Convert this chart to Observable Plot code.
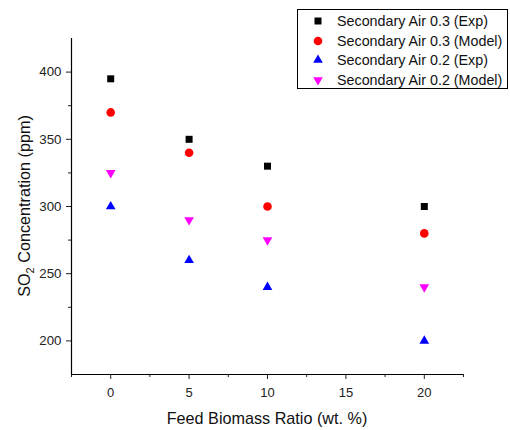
<!DOCTYPE html>
<html>
<head>
<meta charset="utf-8">
<script src="https://cdn.jsdelivr.net/npm/d3@7"></script>
<script src="https://cdn.jsdelivr.net/npm/@observablehq/plot@0.6"></script>
<style>
  html, body { margin: 0; padding: 0; background: #fff; }
  #wrap { position: relative; width: 510px; height: 430px; font-family: "Liberation Sans", Arial, sans-serif; }
  #legend { position: absolute; left: 297px; top: 9px; width: 211px; height: 80px; border: 1px solid #000; background: #fff; box-sizing: border-box; }
  .row { position: absolute; left: 0; height: 20px; display: flex; align-items: center; font-size: 14.3px; color: #111; white-space: nowrap; }
  .row svg { margin-left: 14px; margin-right: 13px; }
</style>
</head>
<body>
<div id="wrap"><div id="legend"></div></div>
<script>
const biomass = [0, 5, 10, 20];
const exp03 = [395, 350, 330, 300];
const model03 = [370, 340, 300, 280];
const exp02 = [300, 260, 240, 200];
const model02 = [325, 290, 275, 240];
const seriesNames = ["Secondary Air 0.3 (Exp)", "Secondary Air 0.3 (Model)", "Secondary Air 0.2 (Exp)", "Secondary Air 0.2 (Model)"];
const seriesColors = ["#000000", "#ff0000", "#0000ff", "#ff00ff"];
const xTicks = [0, 5, 10, 15, 20];
const xMinor = [-2.5, 2.5, 7.5, 12.5, 17.5, 22.5];
const yTicks = [200, 250, 300, 350, 400];
const yMinor = [225, 275, 325, 375];

const triangleDown = {
  draw(context, size) {
    const y = -Math.sqrt(size / (Math.sqrt(3) * 3));
    context.moveTo(0, -y * 2);
    context.lineTo(-Math.sqrt(3) * y, y);
    context.lineTo(Math.sqrt(3) * y, y);
    context.closePath();
  }
};

const mk = (vals) => biomass.map((x, i) => ({x, y: vals[i]}));
const font = "Liberation Sans, Arial, sans-serif";

const chart = Plot.plot({
  width: 510,
  height: 430,
  marginLeft: 71,
  marginRight: 47,
  marginTop: 38,
  marginBottom: 56,
  style: {fontFamily: font, fontSize: "13px", color: "#222", background: "#fff"},
  x: {domain: [-2.5, 22.5], label: null},
  y: {domain: [175, 425], label: null},
  marks: [
    Plot.axisX({ticks: xTicks, tickSize: 5, tickPadding: 8, label: null, fontSize: 13}),
    Plot.axisX({ticks: xMinor, tickSize: 3, tickFormat: () => "", label: null}),
    Plot.axisY({ticks: yTicks, tickSize: 5, tickPadding: 5, label: null, fontSize: 13.3}),
    Plot.axisY({ticks: yMinor, tickSize: 3, tickFormat: () => "", label: null}),
    Plot.ruleY([175], {stroke: "#000", strokeWidth: 1.2}),
    Plot.ruleX([-2.5], {stroke: "#000", strokeWidth: 1.2}),
    Plot.dot(mk(exp03), {x: "x", y: "y", symbol: "square", r: 3.95, fill: seriesColors[0], stroke: "none"}),
    Plot.dot(mk(model03), {x: "x", y: "y", symbol: "circle", r: 4.3, fill: seriesColors[1], stroke: "none"}),
    Plot.dot(mk(exp02), {x: "x", y: "y", symbol: "triangle", r: 3.6, fill: seriesColors[2], stroke: "none"}),
    Plot.dot(mk(model02), {x: "x", y: "y", symbol: triangleDown, r: 3.6, fill: seriesColors[3], stroke: "none"})
  ]
});

const wrap = document.getElementById("wrap");
wrap.insertBefore(chart, wrap.firstChild);

const svg = d3.select(chart);
svg.append("text")
  .attr("x", 267).attr("y", 424)
  .attr("text-anchor", "middle")
  .attr("font-family", font).attr("font-size", 16.2).attr("fill", "#111")
  .text("Feed Biomass Ratio (wt. %)");
const yl = svg.append("text")
  .attr("transform", "translate(30,206) rotate(-90)")
  .attr("text-anchor", "middle")
  .attr("font-family", font).attr("font-size", 16.2).attr("fill", "#111");
yl.append("tspan").text("SO");
yl.append("tspan").attr("font-size", 11).attr("dy", 4).text("2");
yl.append("tspan").attr("dy", -4).text(" Concentration (ppm)");

// legend
const symbols = [d3.symbolSquare, d3.symbolCircle, d3.symbolTriangle, triangleDown];
const sizes = [49, 58, 40, 40];
const legend = d3.select("#legend");
seriesNames.forEach((name, i) => {
  const row = legend.append("div").attr("class", "row").style("top", (1 + i * 19.5) + "px");
  const s = row.append("svg").attr("width", 12).attr("height", 12);
  s.append("path").attr("transform", "translate(6,6)")
    .attr("d", d3.symbol(symbols[i], sizes[i])())
    .attr("fill", seriesColors[i]);
  row.append("span").text(name);
});
</script>
</body>
</html>
